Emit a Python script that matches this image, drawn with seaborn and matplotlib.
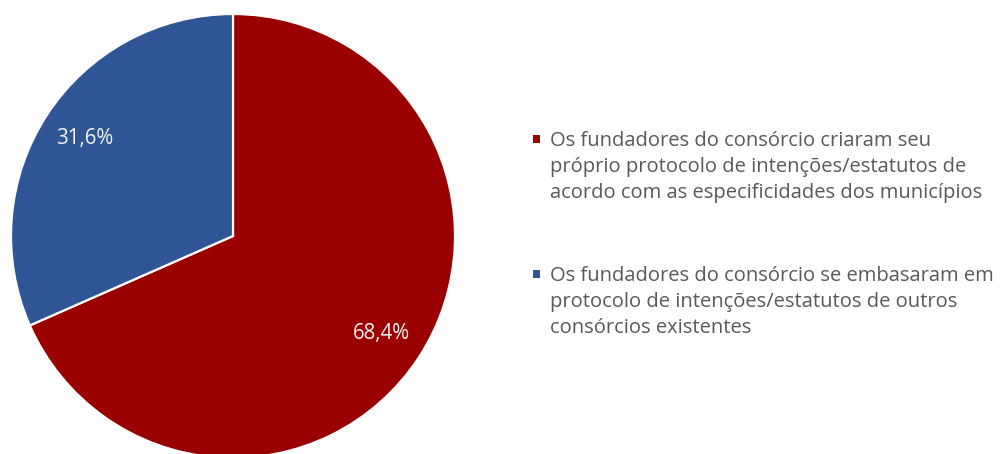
import matplotlib
matplotlib.use("Agg")
import matplotlib.pyplot as plt
from matplotlib.patches import Rectangle
import seaborn as sns

# Share of consortia by how their founding documents were drafted
categories = [
    "Os fundadores do consórcio criaram seu\npróprio protocolo de intenções/estatutos de\nacordo com as especificidades dos municípios",
    "Os fundadores do consórcio se embasaram em\nprotocolo de intenções/estatutos de outros\nconsórcios existentes",
]
shares = [68.4, 31.6]
pct_labels = ["68,4%", "31,6%"]
colors = ["#9A0000", "#2F5597"]

sns.set_theme(style="white")
plt.rcParams["font.family"] = ["Open Sans", "DejaVu Sans"]

W, H = 1008, 454
fig = plt.figure(figsize=(W / 100, H / 100), dpi=100)
fig.patch.set_facecolor("white")

# square axes holding the pie, centred on the left part of the figure
cx, cy, r = 233, 236, 222
ax = fig.add_axes([(cx - r) / W, (H - cy - r) / H, 2 * r / W, 2 * r / H])

wedges, texts = ax.pie(
    shares,
    colors=colors,
    startangle=90,
    counterclock=False,
    radius=1,
    labels=pct_labels,
    labeldistance=0.8,
    wedgeprops=dict(edgecolor="white", linewidth=1.6),
    textprops=dict(color="#F2F2F2", fontsize=14.8, ha="center", va="center"),
)
ax.set_xlim(-1, 1)
ax.set_ylim(-1, 1)
ax.set_aspect("equal")
ax.axis("off")

# legend: small square + wrapped label; pixel baseline of each label's first line
legend_baselines = [146, 281]
line_step = 26
for label, color, base in zip(categories, colors, legend_baselines):
    fig.patches.append(Rectangle((533 / W, 1 - (base - 3) / H), 7 / W, 8 / H,
                                 transform=fig.transFigure, facecolor=color,
                                 edgecolor="none"))
    for i, line in enumerate(label.split("\n")):
        fig.text(550 / W, 1 - (base + i * line_step) / H, line, ha="left",
                 va="baseline", fontsize=14.5, color="#595959")

fig.savefig("out.png", dpi=100, facecolor="white")
